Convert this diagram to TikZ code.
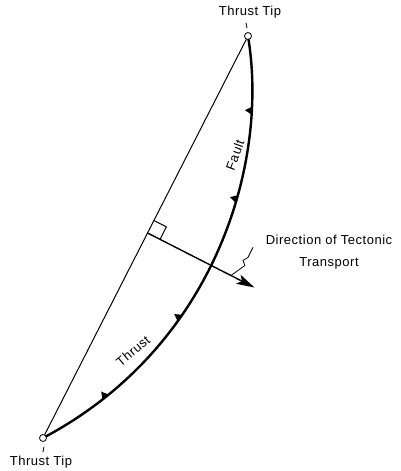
\documentclass[tikz,border=0pt]{standalone}
\usepackage{fontspec}
\setmainfont{Liberation Sans}[LetterSpace=4]
\usetikzlibrary{calc,arrows.meta,decorations.markings}
\begin{document}
\begin{tikzpicture}[x=1pt,y=-1pt,line join=round,line cap=round,font=\fontsize{13}{15}\selectfont,
		tippoint/.style={circle,draw,fill=white,inner sep=0pt,minimum size=7pt,line width=0.8pt},
		teeth/.style={decoration={markings,
			mark=at position 0.15 with {\fill (-4pt,0) -- (4pt,0) -- (0,7pt) -- cycle;},
			mark=at position 0.38 with {\fill (-4pt,0) -- (4pt,0) -- (0,7pt) -- cycle;},
			mark=at position 0.66 with {\fill (-4pt,0) -- (4pt,0) -- (0,7pt) -- cycle;},
			mark=at position 0.85 with {\fill (-4pt,0) -- (4pt,0) -- (0,7pt) -- cycle;}},
			postaction=decorate}]
	\useasboundingbox (0,0) rectangle (400,471);
	\node [tippoint] (top) at (248,36) {};
	\node [tippoint] (bot) at (43,438) {};
	\draw [line width=1pt] (bot) -- (top);
	\draw [line width=2.4pt,teeth] (bot) .. controls (215,345) and (268,165) .. (top);
	\node [rotate=70] (fault) at (235,155) {Fault};
	\node [rotate=40] (thrust) at (133,351) {Thrust};
	% transport direction, normal to the line between the tips
	\coordinate (foot) at ($(bot)!0.51!(top)$);
	\coordinate (head) at ($(foot)!120pt!-90:(top)$);
	\draw [line width=1.4pt,-{Stealth[length=18pt,width=10pt,inset=4pt]}] (foot) -- (head);
	\coordinate (ra) at ($(foot)!14pt!(top)$);
	\coordinate (rb) at ($(foot)!14pt!(head)$);
	\draw [line width=1pt] (ra) -- ($(ra)+(rb)-(foot)$) -- (rb);
	\node [align=center] (transport) at (329,252) {Direction of Tectonic\\[7pt]Transport};
	\coordinate (ld) at ($(foot)!0.78!(head)$);
	\draw [line width=0.8pt] (ld) -- ++(14,-10) -- ++(-2,-5) -- ++(5,-3) -- ++(5,-10);
	% tip labels
	\node (toptip) at (250,12) {Thrust Tip};
	\node (bottip) at (41,462) {Thrust Tip};
	\draw [line width=0.8pt] (246,23) -- (247,28);
	\draw [line width=0.8pt] (44,447) -- (43,452);
\end{tikzpicture}
\end{document}
